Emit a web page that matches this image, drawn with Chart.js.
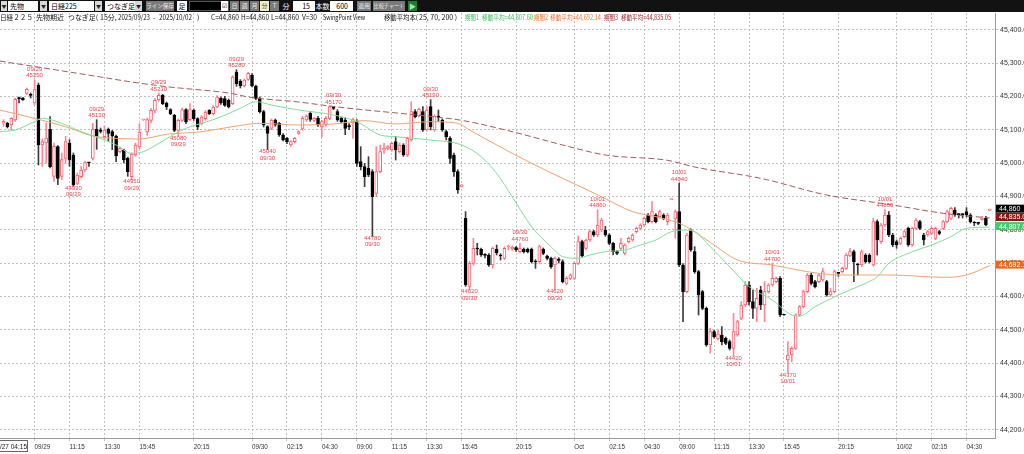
<!DOCTYPE html>
<html lang="ja">
<head>
<meta charset="utf-8">
<title>日経225 先物 15分足</title>
<script src="https://cdn.jsdelivr.net/npm/chart.js@4.4.1/dist/chart.umd.min.js"></script>
<style>
  html, body { margin: 0; padding: 0; background: #fff; }
  #page { position: relative; width: 1024px; height: 454px; overflow: hidden; }
  #resultChart { position: absolute; left: 0; top: 0; }
  #toolbar { position: absolute; left: 0; top: 0; width: 1024px; height: 12px; background: #121212;
             font-family: "Noto Sans CJK JP", sans-serif; font-size: 7px; }
  #toolbar div { position: absolute; top: 1px; height: 10px; line-height: 10px; box-sizing: border-box;
                 white-space: nowrap; overflow: hidden; }
  .fld { background: #fff; color: #000; padding-left: 2px; }
  .dd { background: #d8d8d8; color: #222; text-align: center; font-size: 5px; }
  .btn { background: #7a7a7a; color: #eee; text-align: center; font-size: 6px; }
  .lbl { color: #fff; text-align: center; }
</style>
</head>
<body>
<div id="page">
  <canvas id="resultChart" width="1024" height="454"></canvas>
  <div id="toolbar">
    <div class="dd" style="left:1px;width:6px">▼</div>
    <div class="fld" style="left:8px;width:30px">先物</div>
    <div class="dd" style="left:40px;width:7px">▼</div>
    <div class="fld" style="left:49px;width:45px">日経225</div>
    <div class="dd" style="left:95px;width:7px">▼</div>
    <div class="fld" style="left:105px;width:30px">つなぎ足</div>
    <div class="dd" style="left:135px;width:7px">▼</div>
    <div class="btn" style="left:146px;width:28px;font-size:5.5px">ライン保存</div>
    <div class="fld" style="left:177px;width:10px;padding:0;text-align:center">足</div>
    <div style="left:189px;width:40px;background:#000;border:1px solid #555"></div>
    <div class="fld" style="left:221px;width:7px;padding:0;font-size:6px;text-align:center">☑</div>
    <div class="btn" style="left:230px;width:9px">日</div>
    <div class="btn" style="left:240px;width:9px">週</div>
    <div class="btn" style="left:250px;width:9px">月</div>
    <div class="btn" style="left:260px;width:9px;background:#f2f0c8;color:#444">分</div>
    <div class="btn" style="left:270px;width:9px">T</div>
    <div class="lbl" style="left:281px;width:10px">分</div>
    <div class="fld" style="left:293px;width:22px;text-align:right;padding-right:5px">15</div>
    <div class="lbl" style="left:315px;width:15px">本数</div>
    <div class="fld" style="left:330px;width:23px;text-align:right;padding-right:5px">600</div>
    <div class="btn" style="left:357px;width:14px">適用</div>
    <div class="btn" style="left:373px;width:32px;font-size:5.2px">比較チャート</div>
    <div style="left:408px;width:9px;background:#1f7a33;color:#9fe7a8;font-size:7px;text-align:center">▶</div>
  </div>
</div>
<script>
// one candle per 15-minute bar, k = 0 is the first bar at the left edge
const opens = [
  45120,45119,45114,45129,45195,45195,45209,45205,45180,45234,
  45054,45060,45101,44960,45049,44960,45014,45059,45024,44939,
  44959,44979,45001,45014,45101,45099,45079,45101,45094,45081,
  45034,45039,45014,44959,45024,45048,45129,45093,45128,45158,
  45190,45203,45180,45160,45143,45098,45128,45160,45130,45158,
  45133,45118,45133,45158,45148,45168,45195,45193,45188,45178,
  45273,45245,45231,45251,45264,45231,45194,45154,45109,45104,
  45129,45119,45084,45074,45054,45064,45089,45104,45129,45149,
  45128,45134,45109,45114,45134,45169,45154,45134,45129,45112,
  45120,45125,45004,44989,44984,44974,44909,44974,45039,45044,
  45039,45064,45034,45054,45024,45069,45154,45141,45154,45099,
  45169,45099,45141,45129,45094,45074,45024,44974,44930,44834,
  44630,44699,44744,44741,44726,44724,44694,44741,44724,44714,
  44748,44742,44746,44734,44741,44741,44741,44706,44704,44741,
  44721,44714,44694,44712,44704,44639,44654,44654,44699,44764,
  44744,44769,44794,44784,44799,44799,44784,44759,44734,44744,
  44729,44764,44769,44794,44804,44814,44844,44824,44844,44839,
  44844,44824,44890,44834,44854,44694,44614,44799,44734,44674,
  44614,44564,44454,44494,44474,44484,44474,44464,44444,44484,
  44534,44574,44634,44584,44564,44619,44574,44614,44634,44644,
  44654,44545,44409,44424,44444,44544,44569,44614,44664,44644,
  44644,44649,44644,44604,44614,44670,44674,44684,44721,44734,
  44695,44694,44724,44724,44694,44824,44764,44814,44844,44784,
  44764,44759,44779,44804,44754,44804,44824,44784,44784,44789,
  44774,44794,44804,44824,44834,44859,44846,44846,44854,44844,
  44822,44820,44830,44834,44858
];
const highs = [
  45130,45122,45136,45195,45198,45197,45225,45210,45250,45240,
  45072,45120,45139,45060,45052,45030,45080,45070,45030,44970,
  44990,45005,45003,45119,45130,45105,45110,45105,45098,45084,
  45048,45042,45018,45030,45060,45118,45132,45135,45163,45193,
  45210,45206,45183,45163,45146,45132,45165,45163,45178,45162,
  45136,45142,45157,45160,45172,45202,45198,45200,45192,45262,
  45280,45250,45252,45272,45268,45234,45198,45158,45112,45132,
  45132,45122,45088,45077,45067,45077,45097,45140,45145,45155,
  45137,45140,45128,45140,45172,45170,45160,45138,45135,45118,
  45135,45130,45049,44999,45019,44980,45049,45054,45059,45052,
  45062,45079,45060,45058,45078,45184,45160,45165,45169,45169,
  45190,45145,45159,45132,45099,45079,45030,44980,44936,44854,
  44705,44774,44759,44745,44728,44728,44748,44754,44728,44748,
  44754,44752,44749,44760,44745,44745,44745,44710,44754,44745,
  44724,44718,44718,44716,44710,44659,44668,44702,44781,44769,
  44772,44799,44798,44860,44834,44810,44788,44762,44738,44774,
  44758,44778,44788,44808,44818,44838,44848,44884,44848,44859,
  44848,44849,44892,44859,44940,44698,44789,44803,44749,44678,
  44618,44568,44504,44498,44499,44509,44478,44469,44549,44528,
  44584,44644,44644,44619,44624,44630,44644,44638,44700,44658,
  44659,44546,44464,44449,44548,44573,44619,44669,44669,44648,
  44668,44684,44648,44624,44679,44672,44688,44728,44744,44739,
  44699,44739,44728,44728,44834,44829,44819,44860,44854,44789,
  44769,44778,44798,44808,44808,44834,44828,44789,44798,44808,
  44808,44798,44828,44859,44868,44866,44848,44848,44866,44848,
  44824,44822,44840,44840,44862
];
const lows = [
  45110,45105,45100,45125,45180,45188,45205,45195,45175,44994,
  44990,45000,44985,44945,44935,44950,44999,44990,44930,44935,
  44955,44975,44990,45009,45041,45090,45070,45065,45040,45004,
  45030,45000,44960,44950,45020,45043,45128,45083,45120,45150,
  45186,45175,45160,45145,45094,45080,45124,45118,45126,45128,
  45100,45114,45128,45145,45144,45165,45176,45170,45165,45175,
  45230,45225,45228,45248,45228,45190,45150,45108,45040,45100,
  45110,45080,45066,45058,45050,45060,45086,45098,45125,45125,
  45124,45110,45079,45110,45130,45160,45125,45120,45085,45100,
  45074,44990,44979,44929,44959,44780,44899,44970,45029,45040,
  45035,45009,45030,45020,45019,45065,45135,45138,45095,45095,
  45099,45095,45124,45095,45069,44999,44960,44909,44928,44630,
  44620,44694,44724,44720,44715,44690,44684,44724,44709,44710,
  44739,44738,44735,44730,44730,44730,44700,44684,44699,44725,
  44709,44684,44620,44700,44640,44634,44650,44650,44695,44718,
  44740,44765,44780,44779,44794,44780,44755,44724,44725,44739,
  44724,44760,44765,44790,44800,44810,44820,44820,44820,44835,
  44830,44814,44890,44774,44689,44524,44610,44735,44669,44544,
  44560,44450,44429,44475,44469,44454,44455,44439,44420,44480,
  44530,44570,44574,44534,44524,44560,44524,44610,44630,44640,
  44539,44543,44370,44404,44440,44540,44565,44610,44634,44625,
  44640,44645,44600,44600,44610,44660,44670,44680,44718,44644,
  44664,44689,44700,44700,44690,44724,44759,44810,44779,44749,
  44744,44755,44775,44750,44750,44800,44800,44754,44780,44785,
  44770,44785,44800,44820,44830,44840,44835,44835,44838,44820,
  44812,44815,44828,44812,44858
];
const closes = [
  45125,45109,45134,45191,45193,45190,45221,45203,45220,45054,
  45064,45075,44989,45050,44954,45010,45064,45009,44934,44964,
  44979,45001,45000,45101,45079,45095,45099,45089,45081,45021,
  45044,45009,44974,45027,45054,45093,45131,45130,45158,45188,
  45203,45178,45168,45148,45098,45128,45160,45123,45160,45133,
  45108,45138,45153,45148,45168,45198,45180,45173,45168,45258,
  45238,45232,45249,45269,45231,45194,45154,45114,45089,45129,
  45114,45084,45069,45064,45064,45074,45094,45134,45141,45131,
  45134,45114,45124,45134,45169,45164,45129,45124,45104,45108,
  45130,44999,44989,44959,44964,44899,44974,45034,45044,45049,
  45059,45039,45054,45024,45074,45154,45139,45162,45099,45159,
  45109,45141,45137,45099,45079,45014,44974,44919,44934,44634,
  44699,44744,44742,44724,44723,44694,44744,44731,44721,44744,
  44750,44748,44740,44744,44734,44734,44704,44703,44749,44729,
  44714,44689,44714,44708,44644,44654,44664,44699,44764,44721,
  44769,44794,44784,44814,44829,44784,44759,44734,44729,44759,
  44754,44774,44784,44804,44814,44834,44824,44854,44824,44854,
  44834,44844,44892,44854,44694,44614,44784,44739,44674,44604,
  44564,44454,44494,44479,44487,44464,44459,44444,44494,44524,
  44574,44634,44584,44564,44594,44574,44614,44634,44654,44654,
  44544,44544,44424,44444,44544,44569,44614,44664,44639,44629,
  44664,44674,44604,44614,44674,44669,44684,44724,44734,44704,
  44694,44734,44704,44704,44824,44769,44814,44844,44784,44754,
  44754,44774,44794,44754,44804,44829,44804,44769,44794,44804,
  44804,44789,44824,44854,44864,44844,44845,44845,44844,44824,
  44820,44819,44834,44814,44862
];

// moving averages (bar index, price)
const ma25K = [-1,3,8,10,15,20,25,29,33,36,40,46,55,61,65,69,76,85,91,97,101,110,118,123,127,131,136,141,144,148,151,155,160,164,168,172,175,178,182,187,192,198,203,205,209,215,220,225,228,233,239,244,248,254];
const ma25V = [45094,45099,45124,45134,45119,45094,45074,45054,45029,45034,45059,45099,45134,45164,45184,45174,45159,45144,45124,45084,45079,45069,45054,45019,44969,44899,44809,44749,44719,44714,44724,44734,44739,44754,44769,44794,44799,44794,44749,44689,44629,44589,44544,44541,44569,44604,44629,44659,44699,44729,44754,44779,44804,44808];
const ma75K = [-1,8,16,23,29,35,42,51,59,66,76,85,93,101,110,117,120,127,136,144,154,162,168,175,182,189,198,207,215,228,243,248,254];
const ma75V = [45159,45134,45109,45081,45074,45072,45086,45094,45109,45119,45114,45117,45127,45117,45124,45119,45099,45054,44999,44954,44899,44854,44839,44814,44762,44709,44694,44674,44664,44664,44657,44664,44692];
const ma200K = [-1,25,33,42,59,63,76,86,112,118,131,144,155,171,178,195,212,229,242,254];
const ma200V = [45306,45258,45243,45229,45208,45198,45183,45168,45137,45128,45094,45054,45024,45008,44988,44954,44904,44874,44849,44835];

// SwingPoint marks
const swingK = [8,18,24,33,40,45,60,68,85,95,110,120,133,142,153,174,188,198,202,227];
const swingType = ['H','L','H','L','H','L','H','L','H','L','H','L','H','L','H','H','L','H','L','H'];
const swingPrice = [45250,44930,45130,44950,45210,45080,45280,45040,45170,44780,45190,44620,44760,44620,44860,44940,44420,44700,44370,44860];
const swingDate = ['09/29','09/29','09/29','09/29','09/29','09/29','09/29','09/30','09/30','09/30','09/30','09/30','09/30','09/30','10/01','10/01','10/01','10/01','10/01','10/01'];

// axes
const xTickK = [8,17,26,35,49,64,73,82,91,100,109,118,132,147,156,165,174,183,192,201,215,230,239,248];
const xTickText = ['09/29','11:15','13:30','15:45','20:15','09/30','02:15','04:30','09:00','11:15','13:30','15:45','20:15','Oct','02:15','04:30','09:00','11:15','13:30','15:45','20:15','10/02','02:15','04:30'];
const yTicks = [44200,44300,44400,44500,44600,44700,44800,44900,45000,45100,45200,45300,45400];

// price tags on the right axis
const tagValue = [44860, 44835.05, 44807.60, 44692.14];
const tagText = ['44,860', '44,835.05', '44,807.60', '44,692.14'];
const tagColor = ['#000000', '#8e1414', '#3fca6b', '#f0651a'];

const UP = '#ff5e6e', UP_WICK = '#ff8795', DOWN = '#000000', DOWN_WICK = '#3c3c3c';
const SMALL = '"Liberation Sans", sans-serif';

const isUp = closes.map((c, i) => c >= opens[i]);
const bodyData = opens.map((o, i) => ({x: i, y: [o, closes[i]]}));
const wickData = lows.map((l, i) => ({x: i, y: [l, highs[i]]}));
function pts(ks, vs) { return ks.map((k, i) => ({x: k, y: vs[i]})); }

const headerParts = [
  ['日経２２５', 0, 33, '#111'], ['先物期近', 36, 29, '#111'], ['つなぎ足(', 68, 30, '#111'],
  ['15分,', 100, 17, '#111'], ['2025/09/23', 118, 32, '#111'], ['-', 153, 4, '#111'],
  ['2025/10/02', 159, 33, '#111'], [')', 197, 3, '#111'], ['C=44,860', 211, 28, '#111'],
  ['H=44,860', 241, 28, '#111'], ['L=44,860', 271, 28, '#111'], ['V=30', 302, 15, '#111'],
  ['SwingPoint View', 323, 42, '#111'], ['移動平均本(', 384, 34, '#111'], ['25, 70, 200 )', 419, 44, '#111'],
  ['期間1', 465, 14, '#35c35a'], ['移動平均=44,807.60', 482, 51, '#35c35a'],
  ['期間2', 534, 14, '#f3702a'], ['移動平均=44,692.14', 550, 51, '#f3702a'],
  ['期間3', 604, 14, '#a52a2a'], ['移動平均=44,835.05', 621, 50, '#a52a2a']
];

const overlay = {
  id: 'overlay',
  beforeDraw(chart) {
    const ctx = chart.ctx;
    ctx.save();
    ctx.fillStyle = '#ffffff';
    ctx.fillRect(0, 0, chart.width, chart.height);
    ctx.restore();
  },
  afterDatasetsDraw(chart) {
    const {ctx, scales: {x, y}} = chart;
    ctx.save();
    ctx.font = '6px ' + SMALL;
    ctx.fillStyle = '#f0454f';
    ctx.textAlign = 'center';
    ctx.textBaseline = 'alphabetic';
    swingK.forEach((k, i) => {
      const px = x.getPixelForValue(k);
      const py = y.getPixelForValue(swingPrice[i]);
      const p = String(swingPrice[i]);
      if (swingType[i] === 'H') {
        ctx.fillText(swingDate[i], px, py - 9);
        ctx.fillText(p, px, py - 2.5);
      } else {
        ctx.fillText(p, px, py + 3.5);
        ctx.fillText(swingDate[i], px, py + 10);
      }
    });
    ctx.restore();
  },
  afterDraw(chart) {
    const {ctx, scales: {y}, chartArea} = chart;
    ctx.save();
    // info line
    ctx.font = '7px "Noto Sans CJK JP", sans-serif';
    ctx.textBaseline = 'alphabetic';
    ctx.textAlign = 'left';
    headerParts.forEach(p => {
      ctx.fillStyle = p[3];
      ctx.fillText(p[0], p[1], 19.5, p[2]);
    });
    // price tags
    ctx.font = '7px ' + SMALL;
    tagValue.forEach((v, i) => {
      const py = y.getPixelForValue(v) - 1;
      ctx.fillStyle = tagColor[i];
      ctx.fillRect(chartArea.right + 1, py - 4, 40, 8);
      ctx.fillStyle = '#ffffff';
      ctx.fillText(tagText[i], chartArea.right + 4, py + 2.5);
    });
    // cursor time box
    ctx.strokeStyle = '#666';
    ctx.lineWidth = 1;
    ctx.strokeRect(-3.5, 440.5, 31, 11);
    ctx.font = '6.5px ' + SMALL;
    ctx.fillStyle = '#222';
    ctx.textAlign = 'right';
    ctx.fillText('09/27 04:15', 27, 449);
    ctx.restore();
  }
};

const resultChart = document.getElementById('resultChart');
const myChart = new Chart(resultChart, {
  type: 'bar',
  data: {
    datasets: [
      {
        type: 'line', data: pts(ma25K, ma25V), borderColor: '#80df9a', borderWidth: 1,
        pointRadius: 0, cubicInterpolationMode: 'monotone', order: 0
      },
      {
        type: 'line', data: pts(ma75K, ma75V), borderColor: '#f4a36d', borderWidth: 1,
        pointRadius: 0, cubicInterpolationMode: 'monotone', order: 0
      },
      {
        type: 'line', data: pts(ma200K, ma200V), borderColor: '#a95a5a', borderWidth: 1,
        borderDash: [6, 3], pointRadius: 0, cubicInterpolationMode: 'monotone', order: 0
      },
      {
        data: bodyData,
        backgroundColor: isUp.map(u => u ? '#ffffff' : DOWN),
        borderColor: isUp.map(u => u ? UP : DOWN),
        borderWidth: 1, borderSkipped: false, barThickness: 3, minBarLength: 1,
        grouped: false, order: 1
      },
      {
        data: wickData,
        backgroundColor: isUp.map(u => u ? UP_WICK : DOWN_WICK),
        borderWidth: 0, barThickness: 1, grouped: false, order: 2
      }
    ]
  },
  options: {
    responsive: false,
    animation: false,
    events: [],
    layout: { padding: { top: 13, left: 0, right: 0, bottom: 0 } },
    plugins: { legend: { display: false }, tooltip: { enabled: false } },
    scales: {
      x: {
        type: 'linear', min: -0.9, max: 255.34, offset: false,
        afterBuildTicks: axis => { axis.ticks = xTickK.map(v => ({ value: v })); },
        afterFit: axis => { axis.height = 16; },
        ticks: {
          autoSkip: false, maxRotation: 0, minRotation: 0, align: 'start', padding: 2,
          color: '#333', font: { family: SMALL, size: 6.3 },
          callback: (v, i) => xTickText[i]
        },
        grid: { color: '#c2c2c2', offset: false, tickLength: 3 },
        border: { color: '#9a9a9a', dash: [2, 2] }
      },
      y: {
        position: 'right', min: 44175, max: 45450,
        afterBuildTicks: axis => { axis.ticks = yTicks.map(v => ({ value: v })); },
        afterFit: axis => { axis.width = 29; },
        ticks: {
          padding: 2, color: '#333', font: { family: SMALL, size: 7 },
          callback: v => v.toLocaleString('en-US', { minimumFractionDigits: 2, maximumFractionDigits: 2 })
        },
        grid: { color: '#c2c2c2', tickLength: 3 },
        border: { color: '#9a9a9a', dash: [2, 2] }
      }
    }
  },
  plugins: [overlay]
});
</script>
</body>
</html>
